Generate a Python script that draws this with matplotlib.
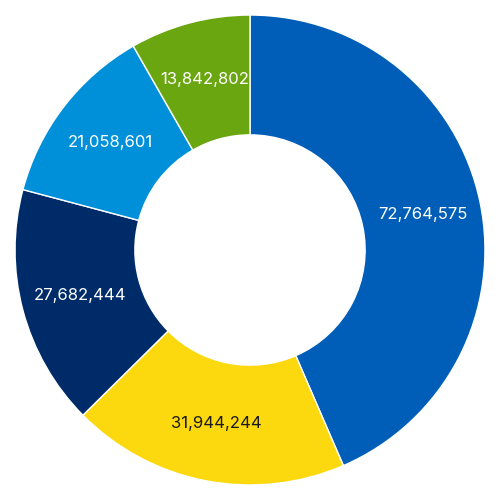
import matplotlib.pyplot as plt

values = [72764575, 31944244, 27682444, 21058601, 13842802]
labels = ["72,764,575", "31,944,244", "27,682,444", "21,058,601", "13,842,802"]
colors = ["#005EB8", "#FCD90F", "#002B69", "#0090DA", "#69A60F"]
text_colors = ["white", "#1a1a1a", "white", "white", "white"]

fig = plt.figure(figsize=(5, 5), dpi=100)
ax = fig.add_axes([0, 0, 1, 1])
wedges, texts = ax.pie(values, colors=colors, startangle=90, counterclock=False,
                       labels=labels, labeldistance=0.75, radius=1.0,
                       wedgeprops=dict(width=0.51, edgecolor="white", linewidth=1),
                       textprops=dict(fontsize=12, family="Inter", ha="center", va="center"))
for t, c in zip(texts, text_colors):
    t.set_color(c)
ax.set_xlim(-1.064, 1.064)
ax.set_ylim(-1.064, 1.064)
ax.set_aspect("equal")
fig.savefig("out.png")
